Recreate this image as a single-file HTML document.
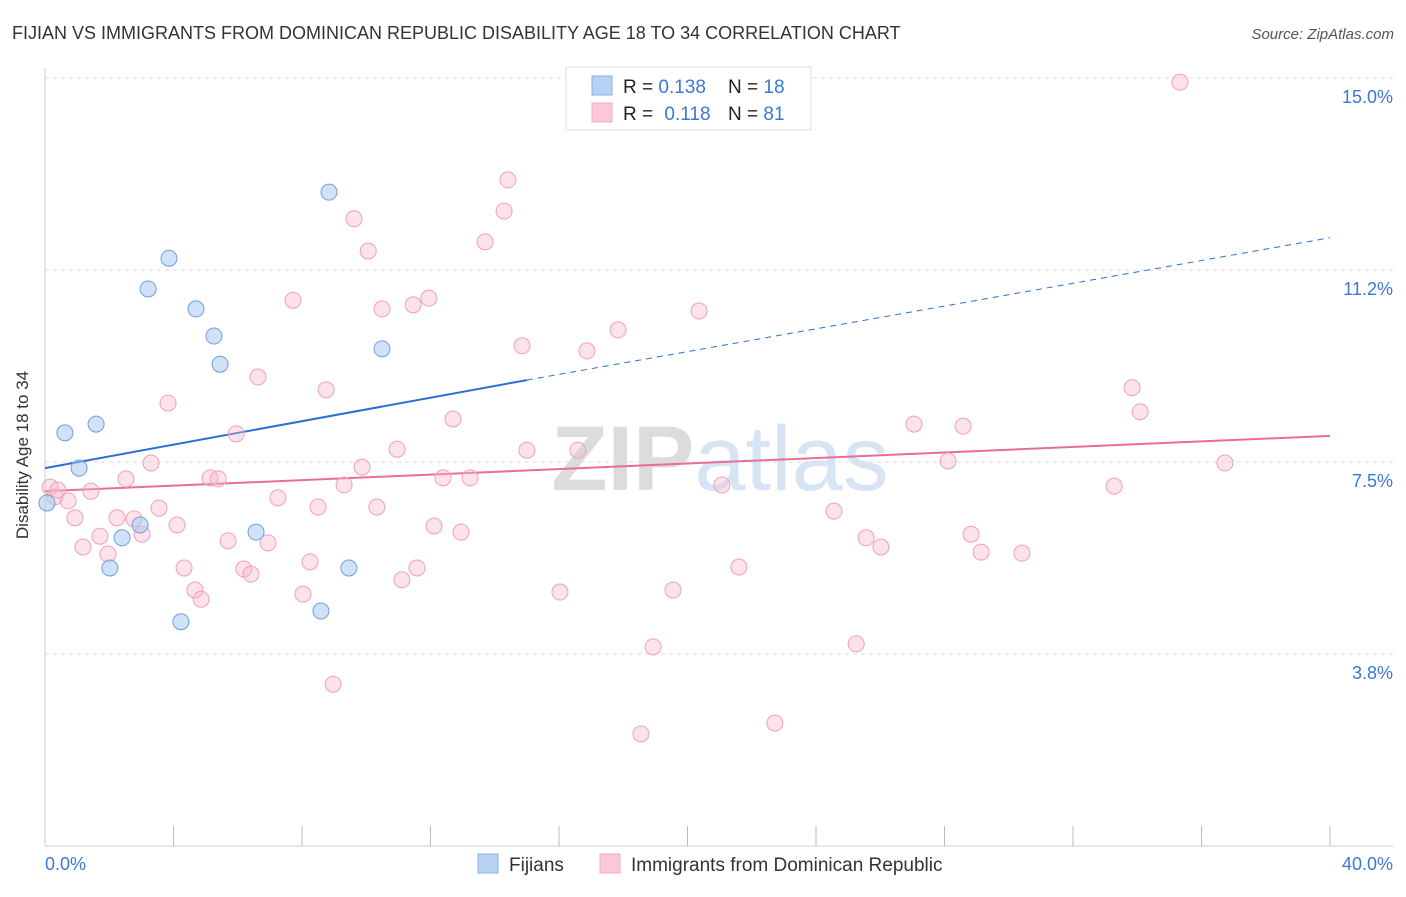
<!DOCTYPE html>
<html><head><meta charset="utf-8"><style>
body{margin:0;background:#fff;font-family:"Liberation Sans",sans-serif}
svg text{font-family:"Liberation Sans",sans-serif}
</style></head><body>
<svg id="chart" width="1406" height="892" xmlns="http://www.w3.org/2000/svg">
<text x="12" y="39" font-size="18" fill="#333">FIJIAN VS IMMIGRANTS FROM DOMINICAN REPUBLIC DISABILITY AGE 18 TO 34 CORRELATION CHART</text>
<text x="1394" y="39" font-size="15" fill="#555" font-style="italic" text-anchor="end">Source: ZipAtlas.com</text>
<text x="720" y="490" font-size="92" fill="#e4e4e4" text-anchor="middle" font-family="Liberation Serif"><tspan font-weight="bold" fill="#dcdcdc">ZIP</tspan><tspan fill="#d6e4f4">atlas</tspan></text>
<g id="grid"></g>
<line x1="45" y1="68" x2="45" y2="846" stroke="#ccc"/>
<line x1="45" y1="846" x2="1393" y2="846" stroke="#ccc"/>
<text x="28" y="455" font-size="17" fill="#333" text-anchor="middle" transform="rotate(-90 28 455)">Disability Age 18 to 34</text>
<text x="45" y="870" font-size="18" fill="#3a78d4">0.0%</text>
<text x="1393" y="870" font-size="18" fill="#3a78d4" text-anchor="end">40.0%</text>
<g id="lines"></g>
<g id="points"></g>
<g>
<rect x="566" y="67" width="245" height="63" fill="#fff" stroke="#ddd"/>
<rect x="592" y="76" width="20" height="19" fill="#b8d2f4" stroke="#8ab0e4"/>
<rect x="592" y="103" width="20" height="19" fill="#fbc8d6" stroke="#f0a8be"/>
<text x="623" y="93" font-size="19" fill="#222">R = <tspan fill="#3a78d4">0.138</tspan><tspan x="728">N = </tspan><tspan fill="#3a78d4">18</tspan></text>
<text x="623" y="120" font-size="19" fill="#222">R = <tspan fill="#3a78d4" dx="6">0.118</tspan><tspan x="728">N = </tspan><tspan fill="#3a78d4">81</tspan></text>
</g>
<g>
<rect x="478" y="854" width="20" height="19" fill="#b8d2f4" stroke="#8ab0e4"/>
<text x="509" y="871" font-size="19" fill="#333">Fijians</text>
<rect x="600" y="854" width="20" height="19" fill="#fbc8d6" stroke="#f0a8be"/>
<text x="631" y="871" font-size="19" fill="#333">Immigrants from Dominican Republic</text>
</g>
</svg>
<script>
const yTicks=[15.0,11.25,7.5,3.75];
const yTickLabels=["15.0%","11.2%","7.5%","3.8%"];
const xTicks=[0,4,8,12,16,20,24,28,32,36,40];
const fijiX=[0.06,0.62,1.06,1.59,2.02,2.40,2.96,3.21,3.86,4.23,4.70,5.26,5.45,6.57,8.59,8.84,9.46,10.49];
const fijiY=[6.70,8.07,7.38,8.24,5.43,6.02,6.27,10.88,11.48,4.38,10.49,9.96,9.41,6.13,4.59,12.77,5.43,9.71];
const domX=[0.16,0.31,0.40,0.72,0.93,1.18,1.43,1.71,1.96,2.24,2.52,2.77,3.02,3.30,3.55,3.83,4.11,4.33,4.67,4.86,5.14,5.39,5.70,5.95,6.19,6.41,6.63,6.94,7.25,7.72,8.03,8.25,8.50,8.75,8.97,9.62,9.87,10.06,9.31,10.33,10.49,10.96,11.11,11.46,11.58,11.95,12.11,12.39,12.70,12.95,13.23,13.70,14.29,14.41,14.85,15.00,16.03,16.59,16.87,17.84,18.55,18.93,19.55,20.36,21.07,21.60,22.72,24.56,25.25,25.56,26.02,27.05,28.11,28.58,28.83,29.14,30.41,33.28,33.84,34.09,35.33,36.73];
const domY=[7.01,6.82,6.95,6.74,6.41,5.84,6.93,6.05,5.70,6.41,7.17,6.39,6.09,7.48,6.60,8.65,6.27,5.43,5.00,4.82,7.19,7.17,5.96,8.05,5.41,5.31,9.16,5.92,6.80,10.66,4.92,5.55,6.62,8.91,3.16,12.25,7.40,11.62,7.05,6.62,10.49,7.75,5.20,10.57,5.43,10.70,6.25,7.19,8.34,6.13,7.19,11.80,12.40,13.01,9.77,7.73,4.96,7.73,9.67,10.08,2.19,3.89,5.00,10.45,7.05,5.45,2.40,6.54,3.95,6.02,5.84,8.24,7.52,8.20,6.09,5.74,5.72,7.03,8.95,8.48,14.92,7.48];
const fijiTrend=[7.38,9.10,11.88];
const domTrend=[6.93,8.01];
const NS="http://www.w3.org/2000/svg";
const X=v=>45+v/40*1285;
const Y=v=>78+(15-v)*51.2;
function mk(tag,attrs,parent){const e=document.createElementNS(NS,tag);for(const k in attrs)e.setAttribute(k,attrs[k]);document.getElementById(parent).appendChild(e);return e;}
yTicks.forEach((t,i)=>{
 const l=mk('line',{x1:45,x2:1393,y1:Y(t),y2:Y(t),stroke:'#ddd','stroke-dasharray':'4,4'},'grid');
 
 
 const tx=mk('text',{x:1393,y:Y(t)+25,'font-size':18,fill:'#3a78d4','text-anchor':'end'},'grid');
 tx.textContent=yTickLabels[i];
 
 
});
xTicks.forEach(t=>{
 const l=mk('line',{x1:X(t),x2:X(t),y1:826,y2:846,stroke:'#bbb'},'grid');
 
 
});
let a=mk('line',{x1:X(0),y1:Y(fijiTrend[0]),x2:X(15),y2:Y(fijiTrend[1]),stroke:'#2a6fd6','stroke-width':2},'lines');


a=mk('line',{x1:X(15),y1:Y(fijiTrend[1]),x2:X(40),y2:Y(fijiTrend[2]),stroke:'#2a6fd6','stroke-width':1,'stroke-dasharray':'6,5'},'lines');


a=mk('line',{x1:X(0),y1:Y(domTrend[0]),x2:X(40),y2:Y(domTrend[1]),stroke:'#e86d98','stroke-width':2},'lines');


domX.forEach((x,i)=>{
 const c=mk('circle',{cx:X(x),cy:Y(domY[i]),r:8,fill:'rgba(247,184,204,0.4)',stroke:'#f0a0bb','stroke-width':1},'points');
 
 
});
fijiX.forEach((x,i)=>{
 const c=mk('circle',{cx:X(x),cy:Y(fijiY[i]),r:8,fill:'rgba(170,200,242,0.55)',stroke:'#6f9fdc','stroke-width':1},'points');
 
 
});
</script>
</body></html>
